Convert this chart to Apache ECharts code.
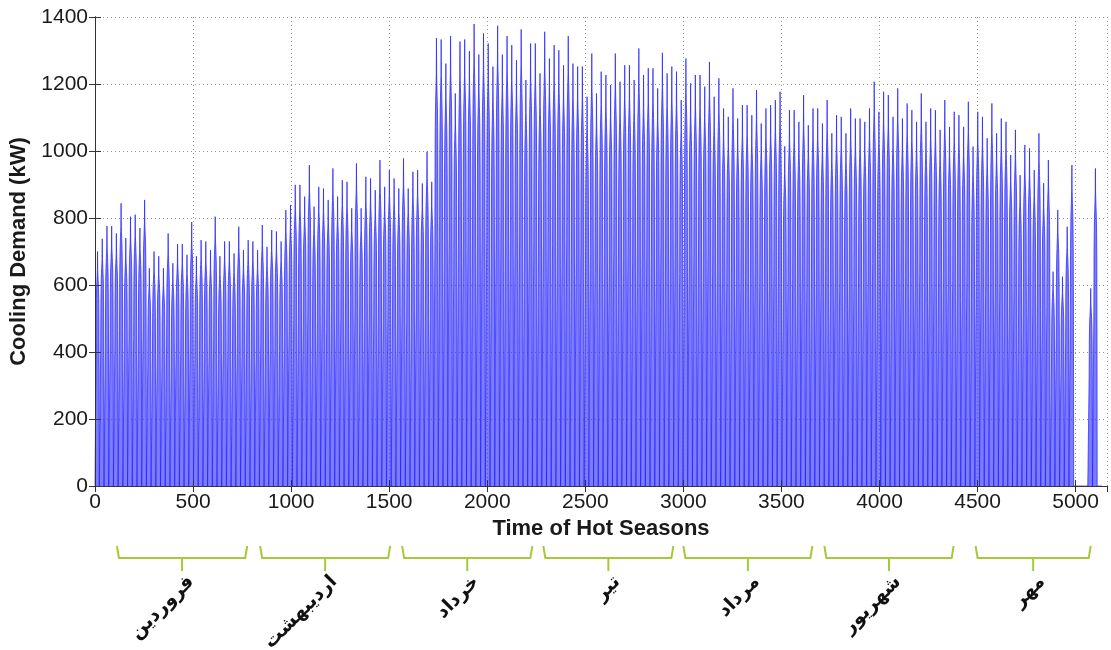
<!DOCTYPE html>
<html><head><meta charset="utf-8">
<script src="https://cdn.jsdelivr.net/npm/echarts@6/dist/echarts.min.js"></script>
<style>html,body{margin:0;padding:0;background:#fff}#c{width:1111px;height:650px}</style>
</head><body><div id="c"></div>
<script>
// Daily peak cooling demand (kW), one value per day (214 days)
const dailyPeak = [
  700, 738, 776, 776, 754, 844, 740, 804, 810, 770,
  854, 650, 700, 686, 650, 754, 665, 722, 722, 690,
  788, 686, 734, 730, 704, 804, 686, 730, 730, 694,
  774, 704, 734, 730, 704, 779, 714, 764, 760, 730,
  824, 839, 899, 899, 864, 958, 834, 893, 888, 854,
  948, 864, 913, 908, 829, 963, 829, 923, 918, 883,
  973, 893, 943, 918, 888, 978, 888, 938, 943, 903,
  998, 908,
  1337, 1333, 1261, 1343, 1172, 1327, 1333, 1298, 1379, 1288,
  1351, 1321, 1252, 1374, 1288, 1343, 1316, 1271, 1363, 1212,
  1321, 1321, 1232, 1356, 1276, 1316, 1301, 1256, 1343, 1261,
  1252, 1252, 1162, 1291, 1172, 1237, 1227, 1197, 1291, 1207,
  1256, 1256, 1212, 1306, 1227, 1247, 1247, 1187, 1293, 1232,
  1252, 1237, 1152, 1276, 1202, 1227, 1227, 1192, 1266, 1162,
  1217, 1127, 1102, 1187, 1097, 1137, 1137, 1107, 1182, 1082,
  1127, 1137, 1152,
  1177, 1014, 1122, 1122, 1087, 1167, 1077, 1127, 1127, 1082,
  1152, 1053, 1107, 1102, 1053, 1127, 1097, 1097, 1087, 1127,
  1207, 1117, 1177, 1167, 1102, 1187, 1097, 1142, 1122, 1087,
  1172, 1087, 1127, 1122, 1063,
  1152, 1072, 1117, 1107, 1072, 1147, 1013, 1117, 1102, 1038,
  1142, 1053, 1097, 1087, 988, 1063, 928, 1018, 1008, 943,
  1053, 904, 973, 640, 824, 625, 774, 958,
  0, 0, 0, 590, 948, 0
];
// Typical hourly shape of a day (fraction of that day's peak), hours 0..23
const hourProfile = [0, 0, 0, 0, 0, 0.55, 0.74, 0.8, 0.84, 0.86, 0.88, 0.9,
                     0.92, 1.0, 0.92, 0.9, 0.88, 0.86, 0.84, 0.8, 0.72, 0.5, 0, 0];
const xTickMax = 5160;
const yTickMax = 1400;
// Persian month annotation spans (hours) as drawn under the axis
const monthNames = ['فروردین', 'اردیبهشت', 'خرداد', 'تیر', 'مرداد', 'شهریور', 'مهر'];
const monthStart = [112, 842, 1566, 2286, 3000, 3719, 4490];
const monthEnd   = [776, 1505, 2230, 2949, 3658, 4378, 5077];

const series = [];
for (let d = 0; d < dailyPeak.length; d++) {
  for (let h = 0; h < 24; h++) {
    series.push([d * 24 + h, Math.round(dailyPeak[d] * hourProfile[h])]);
  }
}
const braces = monthNames.map((n, i) => [monthStart[i], monthEnd[i], i]);

const chart = echarts.init(document.getElementById('c'), null, {renderer: 'canvas'});
const axisFont = {fontFamily: 'Liberation Sans, Arial, sans-serif', fontSize: 21, color: '#1a1a1a',
                  formatter: function (v) { return String(v); }};
const gridLine = {show: true, lineStyle: {color: 'rgba(70,70,70,0.55)', type: [1, 3], width: 1}};
chart.setOption({
  animation: false,
  backgroundColor: '#fff',
  grid: {left: 95, right: 4, top: 17, bottom: 164, containLabel: false, outerBoundsMode: 'none'},
  xAxis: [{
    type: 'value', min: 0, max: xTickMax, interval: 500, z: 10,
    name: 'Time of Hot Seasons', nameLocation: 'middle', nameGap: 29,
    nameTextStyle: {fontFamily: 'Liberation Sans, Arial, sans-serif', fontSize: 22, fontWeight: 'bold', color: '#1a1a1a'},
    axisLine: {show: true, lineStyle: {color: '#333', width: 1}},
    axisTick: {show: true, inside: true, length: 6, lineStyle: {color: '#333'}},
    axisLabel: Object.assign({margin: 6}, axisFont),
    splitLine: gridLine
  }, {
    type: 'value', position: 'top', min: 0, max: xTickMax, interval: 500, z: 10,
    axisLine: {show: true, lineStyle: {color: '#333', width: 1}},
    axisTick: {show: true, inside: true, length: 6, lineStyle: {color: '#333'}},
    axisLabel: {show: false}, splitLine: {show: false}
  }],
  yAxis: [{
    type: 'value', min: 0, max: yTickMax, interval: 200, z: 10,
    name: 'Cooling Demand (kW)', nameLocation: 'middle', nameGap: 55, nameRotate: 90,
    nameTextStyle: {fontFamily: 'Liberation Sans, Arial, sans-serif', fontSize: 22, fontWeight: 'bold', color: '#1a1a1a'},
    axisLine: {show: true, lineStyle: {color: '#333', width: 1}},
    axisTick: {show: true, inside: true, length: 6, lineStyle: {color: '#333'}},
    axisLabel: Object.assign({margin: 7}, axisFont),
    splitLine: gridLine
  }, {
    type: 'value', position: 'right', min: 0, max: yTickMax, interval: 200, z: 10,
    axisLine: {show: true, lineStyle: {color: '#333', width: 1}},
    axisTick: {show: true, inside: true, length: 6, lineStyle: {color: '#333'}},
    axisLabel: {show: false}, splitLine: {show: false}
  }],
  series: [{
    type: 'line', data: series, showSymbol: false, symbol: 'none', z: 2,
    xAxisIndex: 0, yAxisIndex: 0, sampling: false,
    lineStyle: {color: '#2020ff', width: 0.7},
    areaStyle: {color: '#7c7cff', opacity: 1},
    emphasis: {disabled: true}, silent: true
  }, {
    type: 'custom', data: braces, xAxisIndex: 0, yAxisIndex: 0, clip: false, silent: true, z: 5,
    renderItem: function (params, api) {
      const s = api.coord([api.value(0), 0]);
      const e = api.coord([api.value(1), 0]);
      const y0 = s[1] + 60, y1 = s[1] + 72, y2 = s[1] + 85;
      const cx = (s[0] + e[0]) / 2;
      const col = '#a6c93a';
      return {type: 'group', children: [
        {type: 'polyline', shape: {points: [[s[0], y0], [s[0] + 2, y1], [e[0] - 2, y1], [e[0], y0]]},
         style: {stroke: col, lineWidth: 2, fill: null}},
        {type: 'line', shape: {x1: cx, y1: y1, x2: cx, y2: y2}, style: {stroke: col, lineWidth: 2}},
        {type: 'text', x: cx + 9, y: y2 + 8, rotation: Math.PI / 4,
         style: {text: monthNames[api.value(2)], font: 'bold 19px "DejaVu Sans"', align: 'right', verticalAlign: 'middle', fill: '#111'}}
      ]};
    }
  }]
});
</script>
</body></html>
